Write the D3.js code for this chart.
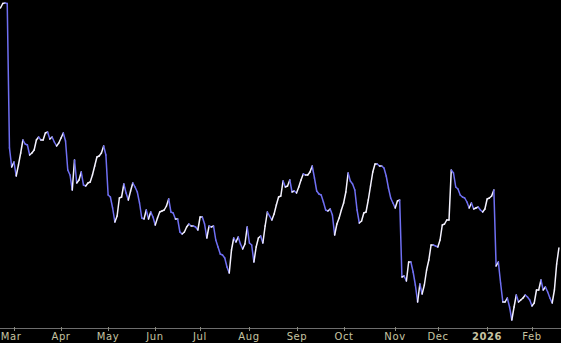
<!DOCTYPE html>
<html>
<head>
<meta charset="utf-8">
<script src="https://cdn.jsdelivr.net/npm/d3@7"></script>
<style>
  html, body { margin: 0; padding: 0; background: #000; overflow: hidden; }
  svg { display: block; }
</style>
</head>
<body>
<div></div>
<script>
var width = 561;
var height = 343;

// trading session range and exchange holidays
var firstDay = "2025-02-21";
var lastDay = "2026-02-19";
var holidays = ["2025-04-18", "2025-05-26", "2025-06-19", "2025-07-04", "2025-09-01",
    "2025-11-27", "2025-12-25", "2026-01-01", "2026-01-19", "2026-02-16"];

// daily closes, one per trading session
var closes = [
    322, 326.5, 327, 326.5, 182, 163, 168, 154, 165, 177,
    190, 186, 185, 175, 177, 180, 190, 193, 190, 190,
    197, 198, 191, 193, 188, 184, 187, 192, 197, 189,
    160, 155, 140, 170, 147, 150, 158, 145, 144, 147,
    148, 155, 164, 173, 174, 177, 184, 175, 135, 133,
    122, 108, 114, 132, 133, 146, 137, 130, 139, 147,
    143, 138, 127, 112, 111, 120, 111, 118, 113, 105,
    112, 118, 119, 120, 124, 131, 118, 117, 111, 111,
    98, 96, 98, 103, 106, 104, 104, 103, 100, 113,
    113, 106, 92, 104, 103, 104, 90, 83, 76, 75,
    72, 63, 57, 80, 92, 88, 93, 86, 81, 86,
    103, 87, 85, 68, 83, 92, 94, 87, 104, 118,
    114, 110, 116, 125, 133, 134, 149, 143, 144, 150,
    138, 139, 137, 143, 150, 156, 155, 155, 158, 164,
    152, 139, 136, 135, 128, 120, 119, 121, 115, 95,
    106, 112, 120, 127, 138, 157, 149, 146, 140, 120,
    107, 109, 117, 118, 130, 144, 158, 166, 166, 164,
    164, 162, 154, 142, 132, 127, 122, 129, 130, 53,
    54, 49, 68, 68, 58, 45, 28, 46, 36, 45,
    60, 70, 85, 85, 84, 83, 90, 105, 106, 110,
    110, 160, 157, 143, 141, 135, 133, 132, 128, 122,
    127, 121, 122, 123, 120, 118, 121, 131, 132, 134,
    140, 64, 68, 47, 28, 28, 32, 23, 10, 23,
    35, 28, 30, 32, 35, 33, 30, 24, 27, 40,
    40, 50, 40, 43, 38, 32, 27, 40, 66, 82
];

var monthNames = ["Jan", "Feb", "Mar", "Apr", "May", "Jun", "Jul", "Aug", "Sep", "Oct", "Nov", "Dec"];

var fmt = d3.utcFormat("%Y-%m-%d");
var days = d3.utcDay.range(new Date(firstDay), d3.utcDay.offset(new Date(lastDay), 1))
    .filter(function (d) {
        var wd = d.getUTCDay();
        return wd != 0 && wd != 6 && holidays.indexOf(fmt(d)) < 0;
    })
    .map(fmt);

// first session of every month after the first one
var monthStarts = days.filter(function (d, i) {
    return i > 0 && d.slice(5, 7) != days[i - 1].slice(5, 7);
});

var svg = d3.select("div")
    .append("svg")
    .attr("width", width)
    .attr("height", height);

var x = d3.scalePoint()
    .domain(days)
    .range([0.5, 558.9]);

var y = d3.scaleLinear()
    .domain(d3.extent(closes))
    .range([320, 3]);

var pts = closes.map(function (v, i) { return [x(days[i]), y(v)]; });

// white on up moves, blue on down moves
svg.append("g")
    .selectAll("line")
    .data(d3.pairs(pts))
    .enter()
    .append("line")
    .attr("x1", function (d) { return d[0][0]; })
    .attr("y1", function (d) { return d[0][1]; })
    .attr("x2", function (d) { return d[1][0]; })
    .attr("y2", function (d) { return d[1][1]; })
    .attr("stroke", function (d) { return d[1][1] <= d[0][1] ? "#f4f2ff" : "#6f6ff2"; })
    .attr("stroke-width", 1.5)
    .attr("stroke-linecap", "round");

// time axis
var axisY = 328;
svg.append("line")
    .attr("x1", 0).attr("x2", width)
    .attr("y1", axisY + 0.5).attr("y2", axisY + 0.5)
    .attr("stroke", "#6e6e6e");

var ticks = svg.append("g")
    .selectAll("g")
    .data(monthStarts)
    .enter()
    .append("g")
    .attr("transform", function (d) { return "translate(" + Math.round(x(d)) + ",0)"; });

ticks.append("line")
    .attr("x1", 0.5).attr("x2", 0.5)
    .attr("y1", axisY - 1).attr("y2", axisY + 3)
    .attr("stroke", "#8a8a80");

ticks.append("text")
    .attr("y", 339.5)
    .attr("x", function (d, i) { return i == 0 ? -3 : 0; })
    .attr("text-anchor", "middle")
    .attr("fill", "#c6c4a2")
    .style("font-family", "'DejaVu Sans', sans-serif")
    .style("font-size", "10px")
    .style("letter-spacing", "0.6px")
    .style("font-weight", function (d) { return d.slice(5, 7) == "01" ? "bold" : "normal"; })
    .text(function (d) {
        var m = +d.slice(5, 7);
        return m == 1 ? d.slice(0, 4) : monthNames[m - 1];
    });
</script>
</body>
</html>
